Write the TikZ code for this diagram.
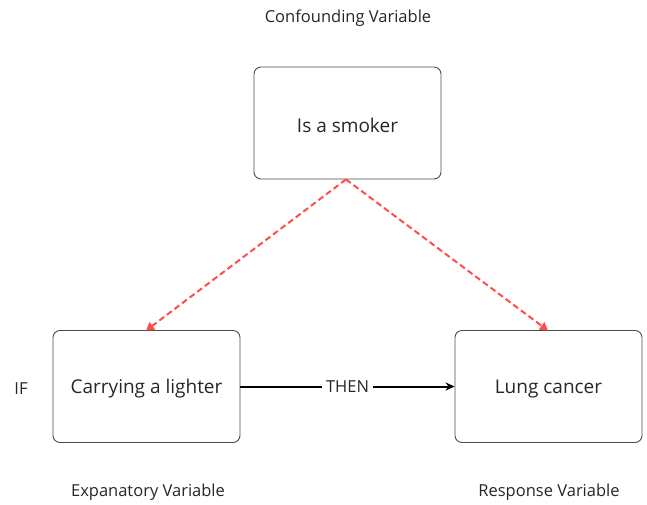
\documentclass[tikz,border=0pt]{standalone}
\usepackage{fontspec}
\setmainfont{Open Sans}
\usetikzlibrary{arrows.meta}
\begin{document}
\begin{tikzpicture}[x=1pt,y=-1pt,
  varbox/.style={draw=black!70,line width=0.9pt,rounded corners=7pt,minimum width=187pt,minimum height=112pt,font=\fontsize{19}{22}\selectfont,text=black!85},
  boxtext/.style={font=\fontsize{19}{22}\selectfont,text=black!85},
  caption/.style={font=\fontsize{16.5}{19}\selectfont,text=black!85},
  confarrow/.style={draw=red!70!white,line width=2pt,dash pattern=on 6pt off 3.5pt,-{Triangle[length=8pt,width=9pt]}},
  causearrow/.style={draw=black,line width=2pt,-{Stealth[length=9pt,width=8pt]}}]
\useasboundingbox (0,0) rectangle (647,505);
% boxes, with their text set a little below centre
\node[varbox] (smoker) at (347.5,123) {};
\node[varbox] (lighter) at (146.5,386.5) {};
\node[varbox] (cancer) at (548.5,386.5) {};
\node[boxtext] (smokertext) at (347.5,125.5) {Is a smoker};
\node[boxtext] (lightertext) at (146.5,389) {Carrying a lighter};
\node[boxtext] (cancertext) at (548.5,389) {Lung cancer};
\node[caption] (conf) at (348,18) {Confounding Variable};
\node[caption] (expl) at (148,492) {Expanatory Variable};
\node[caption] (resp) at (549,492) {Response Variable};
\node[caption] (if) at (21,389) {IF};
\coordinate (top) at (346,179.4);
\coordinate (ltop) at (146,330.6);
\coordinate (rtop) at (548,330.6);
\draw[confarrow] (top) -- (ltop);
\draw[confarrow] (top) -- (rtop);
\draw[causearrow] (lighter.east) -- node[fill=white,caption,inner xsep=4pt] (then) {THEN} (cancer.west);
\end{tikzpicture}
\end{document}
